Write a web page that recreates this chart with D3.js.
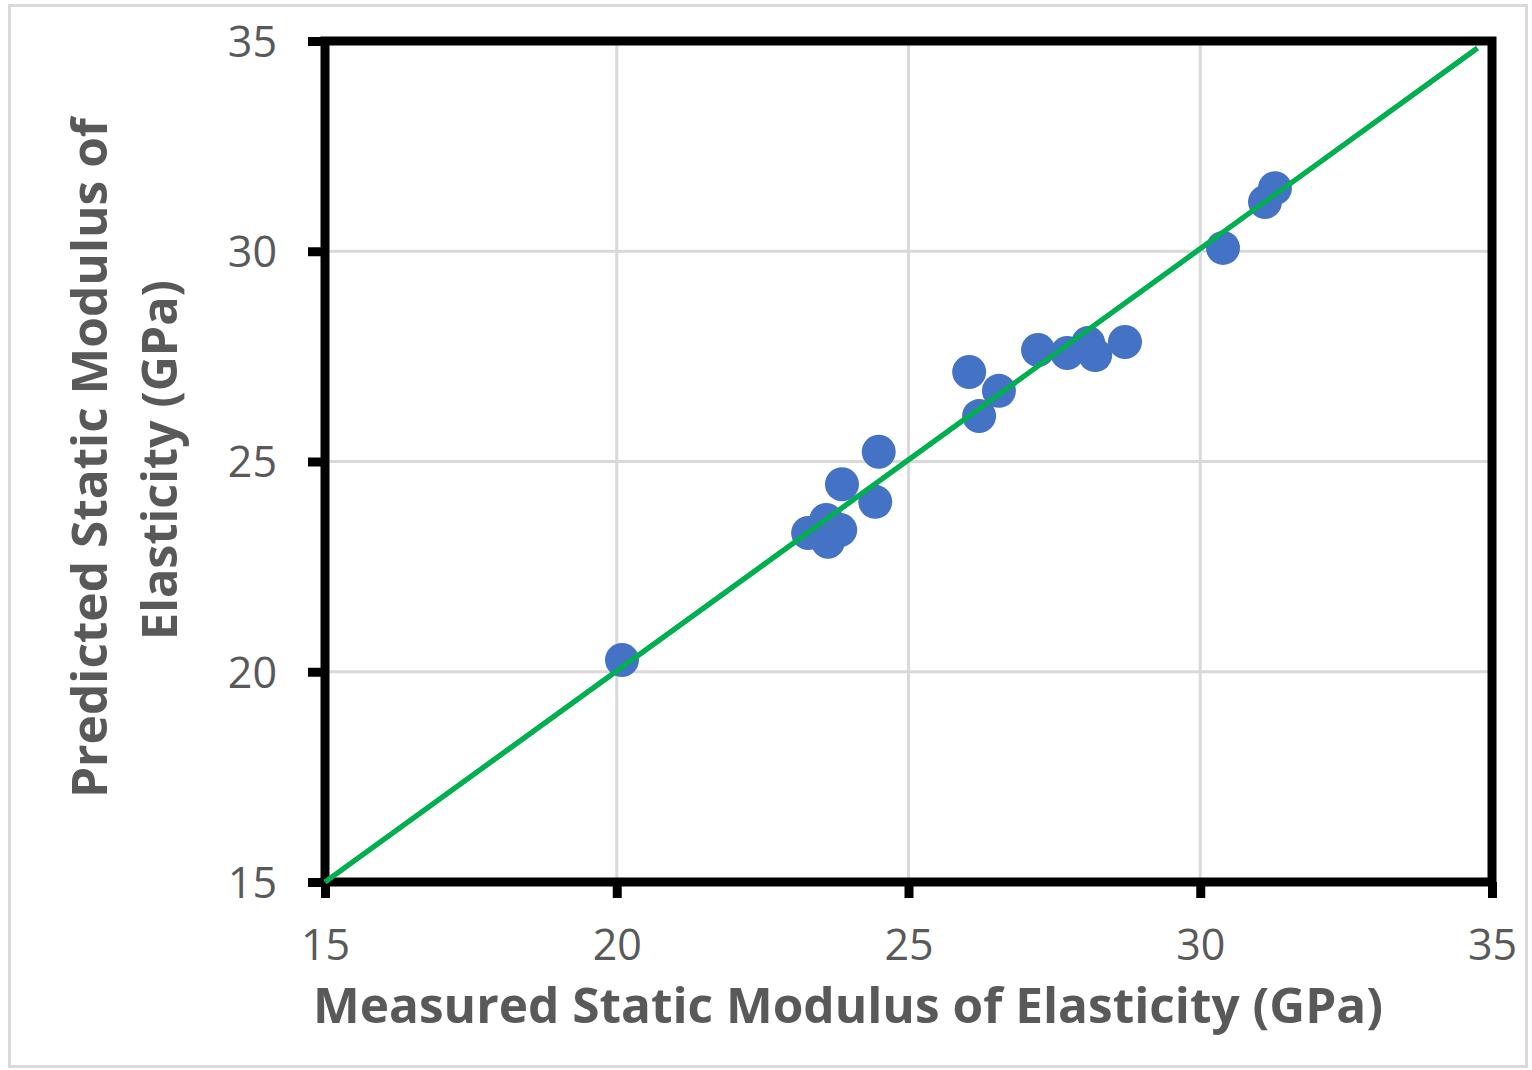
<!DOCTYPE html>
<html>
<head>
<meta charset="utf-8">
<script src="https://cdn.jsdelivr.net/npm/d3@7"></script>
<style>
  html, body { margin: 0; padding: 0; background: #fff; }
  svg { display: block; }
</style>
</head>
<body>
<svg id="chart" width="1532" height="1070"></svg>
<script>
const measured = [20.09, 24.49, 23.86, 24.43, 23.28, 23.59, 23.83, 23.62, 26.04, 26.55, 26.21, 27.22, 27.72, 28.08, 28.20, 28.71, 30.39, 31.11, 31.28];
const predicted = [20.28, 25.23, 24.46, 24.04, 23.30, 23.61, 23.37, 23.09, 27.13, 26.68, 26.08, 27.65, 27.58, 27.82, 27.53, 27.84, 30.08, 31.17, 31.50];
const lineX = [15, 34.75];
const lineY = [15, 34.83];
const xTicks = [15, 20, 25, 30, 35];
const yTicks = [15, 20, 25, 30, 35];
const xTitle = "Measured Static Modulus of Elasticity (GPa)";
const yTitleLines = ["Predicted Static Modulus of", "Elasticity (GPa)"];

const svg = d3.select("#chart");
const font = "'Open Sans', 'Noto Sans', sans-serif";
const textColor = "#595959";

// outer border
svg.append("rect").attr("x", 9.5).attr("y", 5.5).attr("width", 1517).attr("height", 1061)
  .attr("fill", "#fff").attr("stroke", "#d9d9d9").attr("stroke-width", 3);

const x = d3.scaleLinear().domain([15, 35]).range([325, 1492]);
const y = d3.scaleLinear().domain([15, 35]).range([882, 41]);

// gridlines
const grid = svg.append("g");
grid.selectAll("line.v").data(xTicks.slice(1, -1)).join("line")
  .attr("x1", d => x(d)).attr("x2", d => x(d)).attr("y1", y(35)).attr("y2", y(15))
  .attr("stroke", "#d9d9d9").attr("stroke-width", 3);
grid.selectAll("line.h").data(yTicks.slice(1, -1)).join("line")
  .attr("x1", x(15)).attr("x2", x(35)).attr("y1", d => y(d)).attr("y2", d => y(d))
  .attr("stroke", "#d9d9d9").attr("stroke-width", 3);

// axes
const xAxis = svg.append("g").attr("transform", `translate(0,${y(15)})`)
  .call(d3.axisBottom(x).tickValues(xTicks).tickSize(16).tickSizeOuter(0).tickPadding(34));
const yAxis = svg.append("g").attr("transform", `translate(${x(15)},0)`)
  .call(d3.axisLeft(y).tickValues(yTicks).tickSize(17).tickSizeOuter(0).tickPadding(31));
[xAxis, yAxis].forEach(a => {
  a.select(".domain").remove();
  a.selectAll(".tick line").attr("stroke", "#000").attr("stroke-width", 9);
  a.selectAll(".tick text").attr("fill", textColor).style("font-family", font).style("font-size", "43px");
});
xAxis.selectAll(".tick text").attr("dy", "0.71em").attr("y", 47);
yAxis.selectAll(".tick text").attr("dy", "0.36em");

// frame
svg.append("rect").attr("x", x(15)).attr("y", y(35))
  .attr("width", x(35) - x(15)).attr("height", y(15) - y(35))
  .attr("fill", "none").attr("stroke", "#000").attr("stroke-width", 9);

// 1:1 line
svg.append("line")
  .attr("x1", x(lineX[0])).attr("y1", y(lineY[0]))
  .attr("x2", x(lineX[1])).attr("y2", y(lineY[1]))
  .attr("stroke", "#00b050").attr("stroke-width", 5);

// points
const pts = measured.map((m, i) => ({ m, p: predicted[i] }));
svg.append("g").selectAll("circle").data(pts).join("circle")
  .attr("cx", d => x(d.m)).attr("cy", d => y(d.p)).attr("r", 17)
  .attr("fill", "#4472c4");

// line drawn over points? In reference the line is on top
svg.append("line")
  .attr("x1", x(lineX[0])).attr("y1", y(lineY[0]))
  .attr("x2", x(lineX[1])).attr("y2", y(lineY[1]))
  .attr("stroke", "#00b050").attr("stroke-width", 5);

// titles
svg.append("text").attr("x", 848).attr("y", 1023)
  .attr("text-anchor", "middle").attr("fill", textColor)
  .style("font-family", font).style("font-weight", "bold").style("font-size", "49px")
  .attr("textLength", 1070).attr("lengthAdjust", "spacingAndGlyphs")
  .text(xTitle);

const yt = svg.append("g").attr("transform", "translate(0,458) rotate(-90)");
yt.append("text").attr("x", 0).attr("y", 107)
  .attr("text-anchor", "middle").attr("fill", textColor)
  .style("font-family", font).style("font-weight", "bold").style("font-size", "49px")
  .attr("textLength", 680).attr("lengthAdjust", "spacingAndGlyphs")
  .text(yTitleLines[0]);
yt.append("text").attr("x", -2).attr("y", 177)
  .attr("text-anchor", "middle").attr("fill", textColor)
  .style("font-family", font).style("font-weight", "bold").style("font-size", "49px")
  .attr("textLength", 360).attr("lengthAdjust", "spacingAndGlyphs")
  .text(yTitleLines[1]);
</script>
</body>
</html>
